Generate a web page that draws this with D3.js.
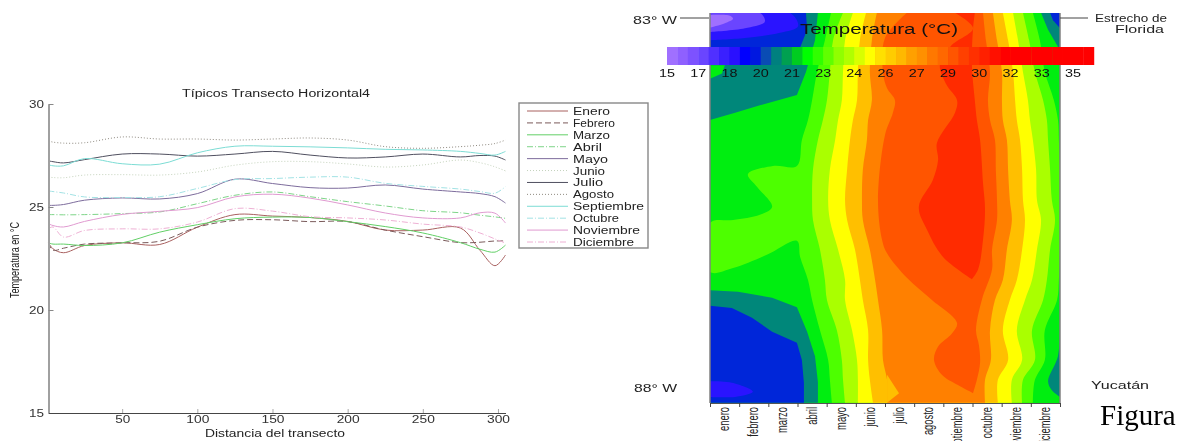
<!DOCTYPE html>
<html lang="es">
<head>
<meta charset="utf-8">
<title>Temperatura por transecto</title>
<script src="https://cdn.jsdelivr.net/npm/d3@7/dist/d3.min.js"></script>
<style>
html,body{margin:0;padding:0;background:#fff;overflow:hidden}
svg{display:block}
text{font-family:"Liberation Sans",Arial,sans-serif}
</style>
</head>
<body>
<svg id="c" width="1183" height="441"></svg>
<script>
// ---------- left chart: temperature along the transect ----------
const distance = [1,4,11,25,50,75,100,125,150,175,200,225,250,275,288,298,305];
const monthNames = ["Enero","Febrero","Marzo","Abril","Mayo","Junio","Julio","Agosto","Septiembre","Octubre","Noviembre","Diciembre"];
const enero      = [23.26,22.97,22.78,23.13,23.26,23.18,24.02,24.63,24.56,24.49,24.30,23.88,23.88,23.98,22.90,22.15,22.67];
const febrero    = [23.26,22.90,23.00,23.20,23.26,23.34,24.02,24.35,24.38,24.29,24.29,23.88,23.56,23.27,23.29,23.35,23.35];
const marzo      = [23.25,23.20,23.20,23.13,23.26,23.78,24.14,24.43,24.51,24.49,24.29,24.05,23.74,23.27,22.95,22.81,23.15];
const abril      = [24.63,24.63,24.62,24.63,24.68,24.76,25.16,25.57,25.73,25.50,25.26,25.05,24.82,24.72,24.60,24.52,24.45];
const mayo       = [25.08,25.08,25.12,25.33,25.44,25.39,25.65,26.35,26.14,25.94,25.92,26.07,25.87,25.73,25.65,25.50,25.19];
const junio      = [26.46,26.43,26.42,26.55,26.57,26.55,26.70,27.03,27.20,27.20,27.09,26.94,27.04,27.28,27.15,26.95,26.75];
const julio      = [27.24,27.20,27.14,27.30,27.57,27.57,27.47,27.57,27.70,27.52,27.38,27.43,27.57,27.43,27.50,27.47,27.28];
const agosto     = [28.20,28.15,28.10,28.12,28.40,28.30,28.30,28.25,28.30,28.35,28.25,27.93,27.85,27.93,28.00,28.08,28.25];
const septiembre = [27.05,27.00,27.00,27.35,27.10,27.08,27.63,27.95,27.95,27.92,27.87,27.80,27.77,27.70,27.60,27.52,27.70];
const octubre    = [25.78,25.75,25.68,25.49,25.46,25.50,25.90,26.33,26.38,26.45,26.45,26.15,26.00,25.87,25.75,25.67,25.99];
const noviembre  = [24.19,24.10,24.03,24.30,24.64,24.79,24.97,25.49,25.62,25.43,25.10,24.71,24.47,24.47,24.72,24.70,24.22];
const diciembre  = [23.95,24.03,23.54,23.86,23.94,23.94,24.27,24.92,24.80,24.53,24.47,24.37,24.17,24.03,23.74,23.45,23.25];
const seriesValues = [enero,febrero,marzo,abril,mayo,junio,julio,agosto,septiembre,octubre,noviembre,diciembre];
const seriesColors = ["#a8605f","#7a5a5a","#62cf66","#7ed488","#7d6c9c","#c4d2bc","#4f4f5f","#8f8a80","#7cdcd4","#a2e2e4","#e09ad0","#eeb0d4"];
const seriesDashes = [null,"6,3",null,"6,2,1,2",null,"1,2",null,"1,2",null,"6,2,1,2",null,"6,2,1,2"];
const yTicksLeft = [15,20,25,30];
const xTicksLeft = [50,100,150,200,250,300];

// ---------- right chart: temperature by month and longitude ----------
const mapMonths = ["enero","febrero","marzo","abril","mayo","junio","julio","agosto","septiembre","octubre","noviembre","diciembre"];
const lonRows = [82.93,83.30,83.73,84.11,84.38,84.65,85.05,85.46,85.73,86.13,86.54,86.81,87.22,87.62,87.89,88.20];
// month position of each isotherm, west/cold side and east/cold side, one per longitude row
const ygLeft     = [4.56,4.22,4.11,4.01,3.87,3.70,3.53,3.50,3.53,3.77,3.94,4.01,4.35,4.52,4.56,4.63];
const ygRight    = [10.73,10.94,11.14,11.42,11.55,11.59,11.66,11.72,11.83,11.66,11.55,11.42,11.04,11.14,10.73,10.70];
const yellowLeft = [4.90,4.63,4.56,4.52,4.39,4.29,4.11,4.05,4.11,4.39,4.63,4.63,4.87,5.04,5.07,5.07];
const yellowRight= [10.39,10.56,10.73,10.90,10.97,11.07,11.18,11.21,11.35,11.21,11.04,10.80,10.52,10.70,10.35,10.35];
const amberLeft  = [5.35,5.14,5.07,5.04,4.90,4.80,4.70,4.63,4.70,4.97,5.14,5.24,5.42,5.42,5.48,5.59];
const amberRight = [10.04,10.22,10.39,10.46,10.52,10.63,10.70,10.73,10.80,10.70,10.52,10.28,10.04,10.22,9.87,9.87];
const orangeLeft = [5.72,5.55,5.48,5.55,5.42,5.38,5.24,5.21,5.24,5.48,5.66,5.76,5.90,5.93,6.07,6.07];
const orangeRight= [9.70,9.84,10.01,10.01,10.04,10.18,10.22,10.28,10.35,10.18,10.04,9.77,9.60,9.63,9.43,9.43];
const limeRight  = [11.07,11.31,11.48,11.79,11.93,11.96,12,12,12,12,11.96,11.90,11.48,11.48,11.14,11.07];
// free-form isotherms: [month position, longitude]
const limeLeft = [[4.15,82.93],[3.94,83.30],[3.67,83.73],[3.50,84.11],[3.36,84.38],[3.15,84.65],[2.98,85.0],[2.16,85.0],[1.30,85.11],[1.61,85.28],[2.13,85.55],[1.71,85.66],[0.79,85.73],[0,85.77],[0,86.43],[0.79,86.38],[1.95,86.20],[2.98,86.01],[3.09,86.23],[3.36,86.54],[3.50,86.81],[3.77,87.22],[4.05,87.62],[4.11,87.89],[4.18,88.20]];
const deepLeft = [[6.75,82.93],[6.00,83.27],[5.93,83.73],[6.07,83.95],[6.34,84.11],[6.27,84.28],[6.00,84.58],[5.76,85.46],[5.90,86.0],[6.07,86.18],[6.75,86.51],[7.61,86.81],[8.47,87.12],[8.30,87.26],[7.82,87.44],[7.68,87.62],[7.95,87.82],[8.50,87.96],[9.02,88.07]];
const deepRight = [[9.02,88.07],[9.15,87.89],[9.26,87.66],[9.22,87.42],[9.12,87.22],[9.32,86.81],[9.67,86.40],[9.67,86.13],[9.84,85.73],[9.84,85.46],[9.80,85.05],[9.77,84.65],[9.60,84.38],[9.53,84.11],[9.60,83.73],[9.46,83.30],[9.36,82.93]];
const redLeft = [[8.40,82.93],[9.02,83.14],[8.26,83.38],[7.88,83.64],[8.12,83.91],[8.47,84.11],[8.40,84.28],[7.78,84.69],[7.82,84.92],[7.64,85.19],[7.16,85.55],[7.44,85.86],[7.99,86.23],[8.98,86.53]];
const redRight = [[8.98,86.53],[9.19,86.40],[9.36,86.0],[9.43,85.59],[9.36,85.23],[9.26,84.65],[9.15,84.38],[9.08,84.11],[8.98,83.64],[9.02,83.14],[9.08,82.93]];
const amberBump = [[6.07,87.82],[6.48,88.07],[6.07,88.20]];
const tealTop = [[0,82.93],[3.70,82.93],[3.60,83.30],[3.29,83.73],[2.98,84.04],[1.71,84.18],[0.86,84.28],[0,84.38]];
const greenWedge = [[0,83.64],[0.51,83.64],[0.41,83.75],[0,83.82]];
const blueTop = [[0,82.93],[3.29,82.93],[3.33,83.16],[3.09,83.40],[3.00,83.60],[0,83.60]];
const indigoTop = [[0,82.93],[2.74,82.93],[3.02,83.11],[2.40,83.20],[1.20,83.27],[0,83.30]];
const violetTop = [[0,82.93],[1.71,82.93],[1.88,83.05],[1.20,83.14],[0,83.19]];
const lilacTop = [[0,82.96],[0.69,82.97],[0.79,83.01],[0.51,83.07],[0,83.13]];
const tealBottom = [[0,86.68],[0.96,86.70],[2.13,86.78],[2.98,86.91],[3.33,87.24],[3.60,87.57],[3.70,87.92],[3.70,88.20],[0,88.20]];
const blueBottom = [[0,86.89],[0.75,86.92],[1.44,87.05],[2.13,87.24],[2.98,87.39],[3.15,87.62],[3.22,87.93],[3.22,88.20],[0,88.20]];
const indigoBottom = [[0,87.91],[0.75,87.93],[1.47,88.05],[0.86,88.12],[0,88.12]];
const tealNE = [[11.35,82.93],[11.59,83.16],[11.93,83.39],[12,83.45],[12,82.93]];
const blueNE = [[11.66,82.93],[11.76,83.03],[12,83.14],[12,82.93]];
const tealSE = [[12,87.17],[11.93,87.57],[11.59,87.91],[11.72,88.03],[12,88.12]];

// colour bar
const barTemps = d3.range(15,35.5,0.5);
const barColors = ["#a070ff","#8f60ff","#7d52ff","#6a45ff","#5030ff","#3a20ff","#2a10ff","#0000ff","#0018e0","#0a4cb4","#00807f","#00a050","#00cc20","#00ff00","#30ff00","#60ff00","#90ff00","#b0ff00","#d8ff00","#ffff00","#ffe000","#ffcc00","#ffb800","#ffa000","#ff9000","#ff7800","#ff6800","#ff5500","#ff4000","#ff3000","#ff2000","#ff1000","#ff0000","#ff0000","#ff0000","#ff0000","#ff0000","#ff0000","#ff0000","#ff0000","#ff0000"];
const barTickValues = [15,16.5,18,19.5,21,22.5,24,25.5,27,28.5,30,31.5,33,34.5];
const barTickLabels = ["15","17","18","20","21","23","24","26","27","29","30","32","33","35"];

const svg = d3.select("#c");
const defs = svg.append("defs");
defs.append("filter").attr("id","soft").attr("x","-2%").attr("y","-2%").attr("width","104%").attr("height","104%")
  .append("feGaussianBlur").attr("stdDeviation",0.5);

// ====== LEFT ======
const xL = d3.scaleLinear().domain([1,305]).range([48.5,505.5]);
const yL = d3.scaleLinear().domain([15,30]).range([413,104]);
const left = svg.append("g").attr("filter","url(#soft)");

const line = d3.line().curve(d3.curveCatmullRom.alpha(0.5));
seriesValues.forEach((vals,i)=>{
  left.append("path")
    .attr("d",line(vals.map((v,k)=>[xL(distance[k]),yL(v)])))
    .attr("fill","none").attr("stroke",seriesColors[i]).attr("stroke-width",1)
    .attr("stroke-dasharray",seriesDashes[i]);
});

const axL = left.append("g").attr("transform","translate(48.5,0)")
  .call(d3.axisLeft(yL).tickValues(yTicksLeft).tickSizeInner(-5).tickSizeOuter(0).tickPadding(4.5));
axL.select(".domain").attr("stroke","#a0a0a0").attr("stroke-width",2);
axL.selectAll(".tick line").attr("stroke","#888");
axL.selectAll("text").attr("font-size",10.5).attr("fill","#333")
  .attr("font-family","'Liberation Sans',Arial,sans-serif")
  .attr("textLength",15).attr("lengthAdjust","spacingAndGlyphs");

const axB = left.append("g").attr("transform","translate(0,413)")
  .call(d3.axisBottom(xL).tickValues(xTicksLeft).tickSizeInner(-4).tickSizeOuter(0).tickPadding(3));
axB.select(".domain").attr("stroke","#444").attr("stroke-width",1);
axB.selectAll(".tick line").attr("stroke","#aaa");
axB.selectAll("text").attr("font-size",10).attr("fill","#333")
  .attr("font-family","'Liberation Sans',Arial,sans-serif")
  .attr("textLength",d=>d<100?15:23).attr("lengthAdjust","spacingAndGlyphs");

function label(g,str,x,y,size,len,opts={}){
  const t=g.append("text").text(str).attr("x",x).attr("y",y).attr("font-size",size)
    .attr("fill",opts.fill||"#222").attr("textLength",len).attr("lengthAdjust","spacingAndGlyphs");
  if(opts.anchor) t.attr("text-anchor",opts.anchor);
  if(opts.family) t.style("font-family",opts.family);
  if(opts.rotate) t.attr("transform",`rotate(${opts.rotate} ${x} ${y})`);
  return t;
}
label(left,"Típicos Transecto Horizontal4",182,97,10,188);
label(left,"Distancia del transecto",205,437,10,140);
label(left,"Temperatura en °C",18.5,298,12,76,{rotate:-90});

// legend
const legend = left.append("g");
legend.append("rect").attr("x",519).attr("y",103).attr("width",129).attr("height",145)
  .attr("fill","#fff").attr("stroke","#888").attr("stroke-width",1.4);
const yLeg = d3.scalePoint().domain(monthNames).range([111,242]);
const legendWidths = [37,42,37,29,35,32,30,41,71,46,67,61];
monthNames.forEach((m,i)=>{
  legend.append("line").attr("x1",527).attr("x2",568).attr("y1",yLeg(m)).attr("y2",yLeg(m))
    .attr("stroke",seriesColors[i]).attr("stroke-dasharray",seriesDashes[i]);
  label(legend,m,573,yLeg(m)+4,11,legendWidths[i]);
});

// ====== RIGHT ======
const xM = d3.scaleLinear().domain([0,12]).range([710,1060]);
const yM = d3.scaleLinear().domain([83,88]).range([18,388]);
defs.append("clipPath").attr("id","mapClip").append("rect")
  .attr("x",xM(0)).attr("y",13).attr("width",xM(12)-xM(0)).attr("height",390);
const map = svg.append("g");
const bands = map.append("g").attr("clip-path","url(#mapClip)");
const cr = d3.line().x(d=>xM(d[0])).y(d=>yM(d[1])).curve(d3.curveCatmullRom.alpha(0.5));
const lin = d3.line().x(d=>xM(d[0])).y(d=>yM(d[1])).curve(d3.curveLinearClosed);
const rows = a=>a.map((m,i)=>[m,lonRows[i]]);
function region(a,b,color){
  const d = cr(a) + "L" + cr(b).slice(1) + "Z";
  bands.append("path").attr("d",d).attr("fill",color);
}
function patch(p,color,smooth){
  bands.append("path").attr("d",smooth?cr(p)+"Z":lin(p)).attr("fill",color);
}
bands.append("rect").attr("x",xM(0)).attr("y",13).attr("width",xM(12)-xM(0)).attr("height",390).attr("fill","#00ee10");
region(limeLeft,rows(limeRight).reverse(),"#4dff00");
region(rows(ygLeft),rows(ygRight).reverse(),"#aaff00");
region(rows(yellowLeft),rows(yellowRight).reverse(),"#ffff00");
region(rows(amberLeft),rows(amberRight).reverse(),"#ffbf00");
region(rows(orangeLeft),rows(orangeRight).reverse(),"#ff8000");
patch(amberBump,"#ffbf00",false);
region(deepLeft,deepRight,"#ff5500");
region(redLeft,redRight,"#ff2b00");
patch(tealTop,"#00877a",false);
patch(greenWedge,"#00ee10",false);
patch(blueTop,"#0026d9",false);
patch(indigoTop,"#2a14ff",true);
patch(violetTop,"#6a45ff",true);
patch(lilacTop,"#a070ff",true);
patch(tealBottom,"#00877a",false);
patch(blueBottom,"#0026d9",false);
patch(indigoBottom,"#2a14ff",true);
patch(tealNE,"#00877a",false);
patch(blueNE,"#0026d9",false);
patch(tealSE,"#00877a",true);

// map frame, ticks and month labels
map.append("line").attr("x1",xM(0)).attr("x2",xM(0)).attr("y1",13).attr("y2",403).attr("stroke","#808080").attr("stroke-width",1.5);
map.append("line").attr("x1",xM(12)).attr("x2",xM(12)).attr("y1",13).attr("y2",403).attr("stroke","#808080").attr("stroke-width",1.5);
const axM = map.append("g").attr("transform","translate(0,403)")
  .call(d3.axisBottom(xM).tickValues(d3.range(0,13)).tickSize(4).tickFormat(""));
axM.select(".domain").attr("stroke","#555").attr("stroke-width",1);
axM.selectAll(".tick line").attr("stroke","#444");
mapMonths.forEach((m,i)=>{
  map.append("text").text(m)
    .attr("transform",`translate(${xM(i+0.5)+4.5},407) rotate(-90) scale(0.72,1.15)`)
    .attr("text-anchor","end").attr("font-size",13).attr("fill","#222");
});

// title and colour bar
label(map,"Temperatura (°C)",800,34,15.5,158,{fill:"#111"});
const xBar = d3.scaleLinear().domain([15,34.5]).range([667,1073]);
const cellW = xBar(15.5)-xBar(15);
map.append("g").selectAll("rect").data(barTemps).join("rect")
  .attr("x",d=>xBar(d)).attr("y",47).attr("width",cellW+0.4).attr("height",18)
  .attr("fill",(d,i)=>barColors[i]);
barTickValues.forEach((v,i)=>{
  label(map,barTickLabels[i],xBar(v)-8,77,11,16,{fill:"#111"});
});

// place labels
map.append("line").attr("x1",680).attr("x2",709).attr("y1",18).attr("y2",18).attr("stroke","#444");
map.append("line").attr("x1",1060).attr("x2",1088).attr("y1",18).attr("y2",18).attr("stroke","#444");
label(map,"83° W",633,24,11,44);
label(map,"88° W",634,392,11,43);
label(map,"Estrecho de",1095,22,10.5,72);
label(map,"Florida",1115,33,10.5,49);
label(map,"Yucatán",1091,389,10,58);
map.append("text").text("Figura").attr("x",1100).attr("y",425).attr("font-size",29)
  .style("font-family","'Liberation Serif','Times New Roman',serif").attr("fill","#000");
</script>
</body>
</html>
